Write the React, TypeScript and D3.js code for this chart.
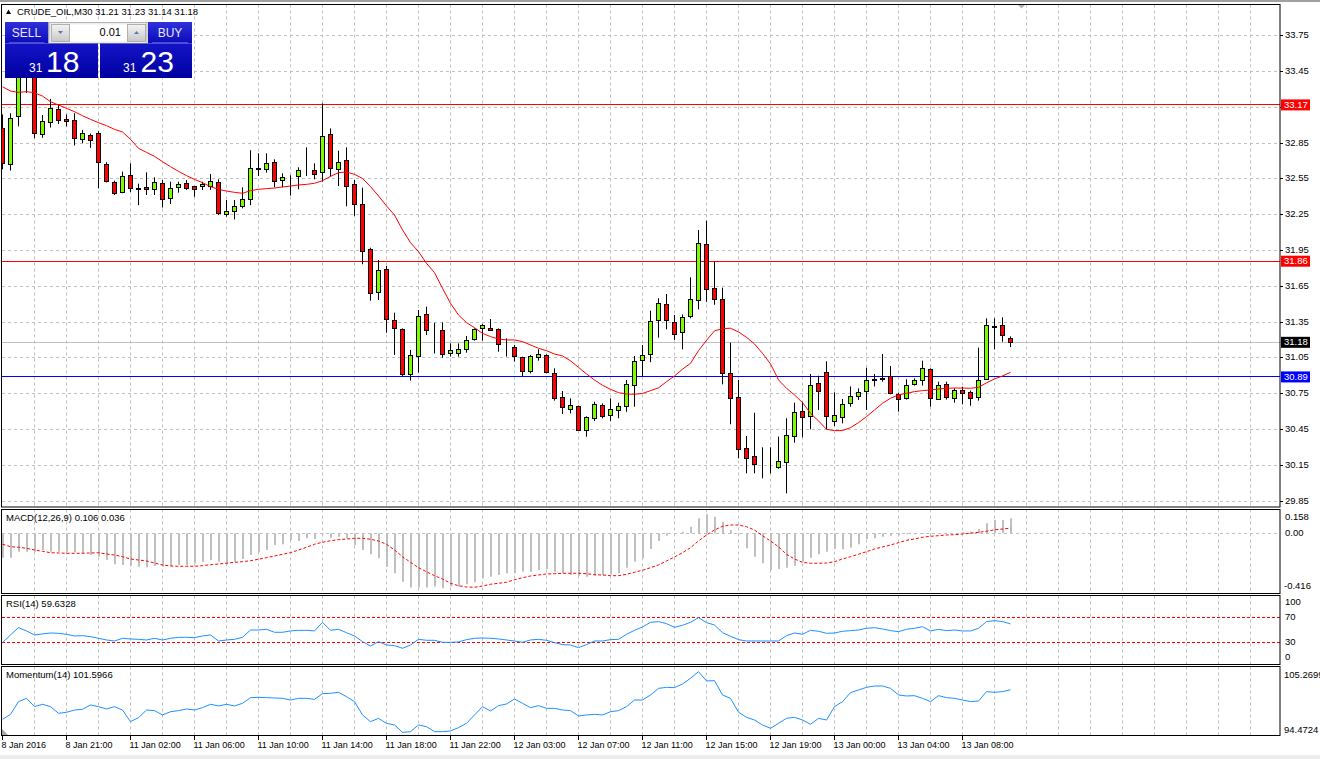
import * as d3 from "d3";

// CRUDE_OIL M30, bars (left to right)
const opens = [
  32.97, 32.67, 33.07, 33.42, 33.42, 32.926, 33.02, 33.13, 33.05, 33.04,
  32.88, 32.91, 32.93, 32.67, 32.52, 32.434, 32.58, 32.465, 32.48, 32.462,
  32.51, 32.387, 32.479, 32.513, 32.482, 32.482, 32.485, 32.521, 32.253, 32.275,
  32.317, 32.378, 32.632, 32.63, 32.688, 32.54, 32.568, 32.568, 32.628, 32.616,
  32.602, 32.926, 32.63, 32.7, 32.504, 32.331, 31.954, 31.596, 31.794, 31.367,
  31.289, 30.911, 31.06, 31.414, 31.28, 31.283, 31.088, 31.088, 31.121, 31.2,
  31.297, 31.297, 31.289, 31.158, 31.138, 31.054, 30.934, 31.054, 31.071, 30.92,
  30.719, 30.618, 30.643, 30.445, 30.543, 30.652, 30.565, 30.61, 30.646, 30.819,
  31.026, 31.08, 31.362, 31.498, 31.347, 31.261, 31.395, 31.529, 32.004, 31.632,
  31.543, 30.915, 30.719, 30.291, 30.222, 30.148, 30.15, 30.132, 30.174, 30.39,
  30.604, 30.557, 30.834, 30.928, 30.515, 30.551, 30.668, 30.725, 30.766, 30.862,
  30.871, 30.892, 30.744, 30.705, 30.83, 30.864, 30.954, 30.702, 30.828, 30.705,
  30.78, 30.761, 30.719, 30.87, 31.305, 31.322, 31.21,
];
const highs = [
  33.09, 33.1, 33.45, 33.52, 33.5, 33.085, 33.22, 33.17, 33.09, 33.1,
  32.96, 32.93, 32.95, 32.69, 32.535, 32.61, 32.68, 32.51, 32.605, 32.563,
  32.54, 32.526, 32.526, 32.54, 32.485, 32.526, 32.59, 32.546, 32.373, 32.373,
  32.479, 32.79, 32.764, 32.764, 32.714, 32.596, 32.58, 32.647, 32.814, 32.68,
  33.183, 32.973, 32.786, 32.814, 32.54, 32.476, 31.973, 31.87, 31.82, 31.428,
  31.297, 31.116, 31.451, 31.479, 31.344, 31.347, 31.171, 31.171, 31.233, 31.297,
  31.333, 31.375, 31.297, 31.213, 31.158, 31.06, 31.074, 31.121, 31.079, 30.962,
  30.772, 30.71, 30.65, 30.56, 30.682, 30.668, 30.71, 30.674, 30.864, 31.065,
  31.157, 31.445, 31.549, 31.585, 31.409, 31.414, 31.725, 32.121, 32.2, 31.856,
  31.638, 31.177, 30.864, 30.395, 30.59, 30.3, 30.3, 30.39, 30.543, 30.674,
  30.682, 30.914, 30.9, 31.021, 30.761, 30.705, 30.81, 30.794, 30.967, 30.914,
  31.082, 30.981, 30.758, 30.87, 30.878, 31.026, 30.962, 30.85, 30.85, 30.794,
  30.808, 30.775, 31.135, 31.381, 31.381, 31.389, 31.23,
];
const lows = [
  32.63, 32.62, 32.99, 33.27, 32.89, 32.895, 32.98, 33.01, 32.99, 32.83,
  32.85, 32.81, 32.47, 32.52, 32.415, 32.43, 32.44, 32.33, 32.415, 32.415,
  32.31, 32.34, 32.434, 32.457, 32.4, 32.457, 32.457, 32.247, 32.233, 32.21,
  32.303, 32.33, 32.574, 32.602, 32.479, 32.479, 32.41, 32.462, 32.574, 32.546,
  32.526, 32.568, 32.49, 32.32, 32.24, 31.834, 31.529, 31.535, 31.26, 31.074,
  30.892, 30.86, 30.926, 31.241, 31.087, 31.051, 31.06, 31.06, 31.093, 31.194,
  31.194, 31.275, 31.101, 31.06, 31.018, 30.897, 30.92, 31.026, 30.92, 30.691,
  30.579, 30.584, 30.44, 30.389, 30.52, 30.543, 30.52, 30.543, 30.598, 30.64,
  30.897, 31.013, 31.219, 31.289, 31.2, 31.121, 31.381, 31.456, 31.52, 31.495,
  30.828, 30.493, 30.208, 30.082, 30.082, 30.04, 30.082, 30.12, 29.914, 30.339,
  30.384, 30.451, 30.613, 30.451, 30.479, 30.501, 30.64, 30.697, 30.613, 30.81,
  30.85, 30.744, 30.599, 30.7, 30.817, 30.817, 30.641, 30.7, 30.7, 30.674,
  30.66, 30.649, 30.691, 30.87, 31.121, 31.185, 31.14,
];
const closes = [
  32.68, 33.06, 33.4, 33.44, 32.93, 33.035, 33.14, 33.04, 33.03, 32.89,
  32.93, 32.87, 32.69, 32.53, 32.43, 32.574, 32.47, 32.467, 32.46, 32.52,
  32.38, 32.47, 32.504, 32.47, 32.465, 32.504, 32.532, 32.256, 32.275, 32.317,
  32.373, 32.638, 32.636, 32.68, 32.526, 32.56, 32.57, 32.624, 32.632, 32.588,
  32.909, 32.638, 32.688, 32.485, 32.336, 31.94, 31.59, 31.786, 31.373, 31.294,
  30.914, 31.068, 31.395, 31.283, 31.278, 31.074, 31.11, 31.121, 31.194, 31.289,
  31.317, 31.278, 31.163, 31.16, 31.06, 30.934, 31.06, 31.079, 30.925, 30.705,
  30.635, 30.652, 30.445, 30.551, 30.663, 30.557, 30.618, 30.643, 30.828, 31.018,
  31.073, 31.353, 31.507, 31.362, 31.247, 31.389, 31.54, 32.01, 31.624, 31.543,
  30.92, 30.71, 30.283, 30.208, 30.157, 30.146, 30.146, 30.18, 30.4, 30.593,
  30.551, 30.822, 30.766, 30.557, 30.563, 30.663, 30.722, 30.761, 30.861, 30.866,
  30.875, 30.752, 30.697, 30.817, 30.856, 30.962, 30.71, 30.817, 30.719, 30.772,
  30.752, 30.71, 30.864, 31.322, 31.31, 31.233, 31.18,
];
const maValues = [
  33.322, 33.286, 33.275, 33.281, 33.272, 33.244, 33.197, 33.169, 33.141, 33.113,
  33.079, 33.049, 33.021, 32.996, 32.965, 32.943, 32.881, 32.806, 32.772, 32.739,
  32.694, 32.652, 32.613, 32.577, 32.546, 32.518, 32.485, 32.462, 32.448, 32.437,
  32.429, 32.451, 32.462, 32.468, 32.473, 32.482, 32.49, 32.499, 32.504, 32.513,
  32.535, 32.571, 32.602, 32.608, 32.588, 32.553, 32.485, 32.407, 32.323, 32.247,
  32.122, 32.015, 31.94, 31.842, 31.764, 31.633, 31.507, 31.409, 31.345, 31.303,
  31.255, 31.228, 31.208, 31.2, 31.2, 31.186, 31.158, 31.13, 31.11, 31.082,
  31.066, 31.025, 30.97, 30.915, 30.864, 30.82, 30.786, 30.758, 30.747, 30.745,
  30.751, 30.775, 30.798, 30.85, 30.898, 30.955, 31.004, 31.11, 31.197, 31.276,
  31.295, 31.298, 31.267, 31.222, 31.166, 31.088, 30.999, 30.865, 30.795, 30.739,
  30.675, 30.585, 30.521, 30.451, 30.44, 30.44, 30.465, 30.507, 30.557, 30.613,
  30.669, 30.711, 30.739, 30.753, 30.767, 30.775, 30.781, 30.789, 30.795, 30.797,
  30.797, 30.795, 30.803, 30.84, 30.873, 30.898, 30.929,
];
const macdMain = [
  -0.171, -0.171, -0.129, -0.129, -0.129, -0.117, -0.129, -0.129, -0.129, -0.133,
  -0.14, -0.152, -0.164, -0.187, -0.217, -0.222, -0.227, -0.234, -0.238, -0.229,
  -0.234, -0.229, -0.222, -0.222, -0.21, -0.199, -0.187, -0.199, -0.217, -0.199,
  -0.18, -0.152, -0.133, -0.117, -0.082, -0.077, -0.047, -0.054, -0.035, -0.04,
  -0.007, -0.031, -0.024, -0.035, -0.082, -0.117, -0.147, -0.175, -0.234, -0.28,
  -0.339, -0.38, -0.38, -0.38, -0.373, -0.385, -0.373, -0.373, -0.357, -0.343,
  -0.315, -0.304, -0.292, -0.28, -0.28, -0.269, -0.269, -0.257, -0.25, -0.269,
  -0.28, -0.292, -0.297, -0.304, -0.297, -0.292, -0.287, -0.28, -0.241, -0.199,
  -0.175, -0.11, -0.054, -0.017, 0.0, 0.011, 0.046, 0.105, 0.133, 0.116,
  0.081, 0.023, -0.007, -0.105, -0.164, -0.21, -0.257, -0.25, -0.241, -0.227,
  -0.199, -0.171, -0.147, -0.129, -0.11, -0.112, -0.101, -0.077, -0.04, -0.035,
  -0.024, -0.017, -0.012, -0.007, -0.007, -0.005, -0.003, -0.003, 0.0, 0.002,
  0.007, 0.011, 0.03, 0.07, 0.093, 0.093, 0.106,
];
const macdSignal = [
  -0.077, -0.094, -0.098, -0.105, -0.117, -0.126, -0.136, -0.138, -0.14, -0.14,
  -0.14, -0.138, -0.136, -0.145, -0.152, -0.164, -0.18, -0.187, -0.194, -0.208,
  -0.222, -0.229, -0.231, -0.231, -0.231, -0.227, -0.22, -0.215, -0.21, -0.203,
  -0.199, -0.192, -0.182, -0.171, -0.159, -0.147, -0.136, -0.117, -0.098, -0.077,
  -0.063, -0.052, -0.045, -0.04, -0.035, -0.035, -0.042, -0.054, -0.077, -0.117,
  -0.164, -0.203, -0.241, -0.269, -0.297, -0.32, -0.35, -0.367, -0.376, -0.378,
  -0.369, -0.357, -0.35, -0.343, -0.325, -0.311, -0.299, -0.292, -0.285, -0.283,
  -0.28, -0.28, -0.28, -0.283, -0.29, -0.292, -0.297, -0.297, -0.287, -0.273,
  -0.259, -0.241, -0.222, -0.194, -0.166, -0.136, -0.101, -0.054, -0.012, 0.023,
  0.049, 0.058, 0.058, 0.046, 0.023, -0.017, -0.054, -0.094, -0.147, -0.18,
  -0.203, -0.21, -0.21, -0.208, -0.199, -0.18, -0.164, -0.147, -0.129, -0.11,
  -0.096, -0.082, -0.066, -0.049, -0.04, -0.028, -0.021, -0.017, -0.012, -0.01,
  -0.005, 0.0, 0.007, 0.014, 0.024, 0.03, 0.036,
];
const rsiValues = [
  30.1, 42.2, 53.7, 48.5, 42.2, 43.8, 45.3, 44.8, 43.2, 40.6,
  41.1, 39.5, 36.9, 34.3, 32.7, 36.9, 35.9, 35.3, 34.3, 36.9,
  34.3, 36.9, 38.5, 38.5, 38.0, 40.6, 42.2, 32.7, 34.3, 35.3,
  38.5, 50.0, 50.0, 51.1, 46.4, 46.4, 48.5, 49.5, 49.5, 48.5,
  62.1, 49.5, 51.1, 45.8, 40.6, 31.7, 24.8, 31.7, 26.4, 25.4,
  21.2, 26.4, 35.3, 33.8, 33.8, 30.6, 30.6, 31.2, 34.8, 36.9,
  37.5, 36.9, 35.9, 34.3, 32.7, 30.6, 34.3, 35.3, 33.8, 30.1,
  27.0, 26.4, 22.2, 27.0, 32.7, 32.7, 34.8, 35.3, 43.2, 49.5,
  54.8, 62.1, 63.2, 60.0, 54.2, 57.4, 62.1, 69.5, 61.6, 57.9,
  45.8, 40.1, 34.8, 32.7, 32.7, 32.7, 32.7, 32.7, 41.1, 45.3,
  43.2, 49.5, 48.0, 44.8, 45.3, 48.0, 49.0, 50.0, 52.7, 53.7,
  51.6, 49.0, 47.4, 51.1, 52.7, 55.3, 48.5, 51.1, 49.0, 50.0,
  48.5, 48.5, 52.7, 63.2, 64.7, 63.2, 59.6328,
];
const momentumValues = [
  96.84, 97.64, 99.69, 100.22, 98.88, 99.26, 98.88, 97.81, 97.97, 98.34,
  98.45, 99.15, 98.88, 98.5, 98.88, 98.34, 96.46, 97.11, 98.34, 98.24,
  97.54, 98.07, 98.24, 98.5, 98.34, 98.72, 99.26, 98.99, 99.26, 98.99,
  99.42, 100.33, 100.38, 100.33, 100.28, 100.22, 99.95, 100.22, 100.22, 100.06,
  100.97, 101.03, 101.19, 100.49, 99.69, 97.54, 96.46, 96.99, 96.19, 95.93,
  94.74, 94.85, 95.93, 95.66, 94.85, 94.85, 94.96, 95.5, 96.19, 97.54,
  98.88, 98.18, 99.04, 99.31, 100.11, 99.42, 98.72, 99.04, 98.61, 98.61,
  98.34, 98.24, 97.38, 97.54, 97.64, 97.54, 98.07, 98.24, 98.88, 99.95,
  99.95, 100.76, 101.83, 101.99, 101.94, 102.53, 103.45, 104.52, 103.02, 103.07,
  100.76, 100.22, 97.97, 97.16, 96.73, 95.93, 95.39, 96.19, 97.0, 97.16,
  96.73, 96.03, 97.0, 96.73, 98.88, 99.69, 101.14, 101.57, 101.99, 102.21,
  102.21, 101.83, 100.76, 100.6, 100.65, 100.22, 99.69, 100.65, 100.33, 100.22,
  99.95, 99.69, 99.79, 101.3, 101.19, 101.3, 101.5966,
];

const priceTicks = [33.75, 33.45, 33.15, 32.85, 32.55, 32.25, 31.95, 31.65, 31.35, 31.05, 30.75, 30.45, 30.15, 29.85];
const levelValues = [33.17, 31.86, 31.18, 30.89];
const askPrice = 31.23;
const lotSize = "0.01";
const timeLabels = [
  "8 Jan 2016", "8 Jan 21:00", "11 Jan 02:00", "11 Jan 06:00", "11 Jan 10:00",
  "11 Jan 14:00", "11 Jan 18:00", "11 Jan 22:00", "12 Jan 03:00", "12 Jan 07:00",
  "12 Jan 11:00", "12 Jan 15:00", "12 Jan 19:00", "13 Jan 00:00", "13 Jan 04:00",
  "13 Jan 08:00",
];
const macdRange = [-0.416, 0.158];
const rsiRange = [0, 100];
const rsiLevels = [70, 30];
const momRange = [94.4724, 105.2699];

const FONT = "Liberation Sans, Arial, sans-serif";
const LEFT = 2;
const RIGHT = 1280;
const GRID = "#c0c0c0";
const levelColors = ["#ff0000", "#ff0000", "#c0c0c0", "#0000ff"];
const levelBg = ["#ff0000", "#ff0000", "#000000", "#0000ff"];

const panels = {
  main: { top: 4.5, bottom: 507 },
  macd: { top: 509.5, bottom: 593.5 },
  rsi: { top: 595.5, bottom: 664.5 },
  mom: { top: 666.5, bottom: 735.5 },
};

const n = closes.length;
const x = d3.scaleLinear().domain([0, n - 1]).range([2.5, 2.5 + 8 * (n - 1)]);
const yMain = d3.scaleLinear().domain([29.85, 33.75]).range([501, 35.7]);
const yMacd = d3.scaleLinear().domain(macdRange).range([592.7, 510.7]);
const yRsi = d3.scaleLinear().domain(rsiRange).range([661.75, 598.25]);
const yMom = d3.scaleLinear().domain(momRange).range([734, 667]);

const crisp = (v: number) => Math.round(v - 0.5) + 0.5;
const gridBars = d3.range(4, 157, 4);

const App = () => {
  const last = n - 1;
  const maLine = d3.line<number>().x((_d, i) => x(i)).y((d) => yMain(d));
  const sigLine = d3.line<number>().x((_d, i) => x(i)).y((d) => yMacd(d));
  const rsiLine = d3.line<number>().x((_d, i) => x(i)).y((d) => yRsi(d));
  const momLine = d3.line<number>().x((_d, i) => x(i)).y((d) => yMom(d));

  const bid = closes[last];
  const split = (p: number) => {
    const s = p.toFixed(2).split(".");
    return [s[0], s[1]];
  };
  const [bidBig, bidSmall] = split(bid);
  const [askBig, askSmall] = split(askPrice);

  const panelGrid = (p: { top: number; bottom: number }, key: string) => (
    <g key={key}>
      {gridBars.map((b) => (
        <line key={b} x1={x(b)} x2={x(b)} y1={p.top} y2={p.bottom} stroke={GRID} strokeDasharray="3,3" />
      ))}
    </g>
  );

  const axisText = { fontFamily: FONT, fontSize: 9.5, fill: "#000" };

  return (
    <div style={{ position: "absolute", left: 0, top: 0 }}>
      <svg width={1320} height={759} style={{ display: "block", background: "#fff" }}>
        <defs>
          <clipPath id="clip-main">
            <rect x={LEFT} y={panels.main.top} width={RIGHT - LEFT} height={panels.main.bottom - panels.main.top} />
          </clipPath>
          <linearGradient id="btn" x1="0" y1="0" x2="0" y2="1">
            <stop offset="0%" stopColor="#3030dc" />
            <stop offset="100%" stopColor="#0a0ab8" />
          </linearGradient>
          <linearGradient id="pricebox" x1="0" y1="0" x2="0" y2="1">
            <stop offset="0%" stopColor="#1414c8" />
            <stop offset="100%" stopColor="#0000a0" />
          </linearGradient>
          <linearGradient id="spin" x1="0" y1="0" x2="0" y2="1">
            <stop offset="0%" stopColor="#f4f4f4" />
            <stop offset="100%" stopColor="#c8c8c8" />
          </linearGradient>
        </defs>

        <rect x={0} y={0} width={1320} height={2} fill="#a0a0a0" />
        <rect x={0} y={755} width={1320} height={4} fill="#ececec" />

        {/* grids */}
        {panelGrid(panels.main, "gm")}
        {panelGrid(panels.macd, "gd")}
        {panelGrid(panels.rsi, "gr")}
        {panelGrid(panels.mom, "go")}
        {priceTicks.map((t) => (
          <line key={t} x1={LEFT} x2={RIGHT} y1={crisp(yMain(t))} y2={crisp(yMain(t))} stroke={GRID} strokeDasharray="3,3" />
        ))}
        <line x1={LEFT} x2={RIGHT} y1={crisp(yMacd(0))} y2={crisp(yMacd(0))} stroke={GRID} strokeDasharray="3,3" />

        {/* main panel */}
        <g clipPath="url(#clip-main)">
          {levelValues.map((v, i) => (
            <line key={v} x1={LEFT} x2={RIGHT} y1={crisp(yMain(v))} y2={crisp(yMain(v))} stroke={levelColors[i]} />
          ))}
          {closes.map((c, i) => {
            const o = opens[i];
            const cx = x(i);
            const top = crisp(yMain(Math.max(o, c)));
            const bot = crisp(yMain(Math.min(o, c)));
            return (
              <g key={i}>
                <line x1={cx} x2={cx} y1={yMain(highs[i])} y2={yMain(lows[i])} stroke="#000" />
                <rect x={cx - 2} y={top} width={4} height={Math.max(0, bot - top)} fill={c >= o ? "#7cfc00" : "#ff0000"} stroke="#000" />
              </g>
            );
          })}
          <path d={maLine(maValues) ?? ""} fill="none" stroke="#ff0000" strokeWidth={1} />
        </g>

        {/* MACD */}
        {macdMain.map((v, i) => (
          <line key={i} x1={x(i) + 0.5} x2={x(i) + 0.5} y1={yMacd(0)} y2={yMacd(v)} stroke="#c0c0c0" strokeWidth={2} />
        ))}
        <path d={sigLine(macdSignal) ?? ""} fill="none" stroke="#ff0000" strokeDasharray="3,2" />

        {/* RSI */}
        {rsiLevels.map((l) => (
          <line key={l} x1={LEFT} x2={RIGHT} y1={crisp(yRsi(l))} y2={crisp(yRsi(l))} stroke="#ff0000" strokeDasharray="3,2" />
        ))}
        <path d={rsiLine(rsiValues) ?? ""} fill="none" stroke="#1e90ff" />

        {/* Momentum */}
        <path d={momLine(momentumValues) ?? ""} fill="none" stroke="#1e90ff" />

        {/* panel borders */}
        {Object.entries(panels).map(([k, p]) => (
          <rect key={k} x={LEFT - 0.5} y={p.top} width={RIGHT - LEFT + 0.5} height={p.bottom - p.top} fill="none" stroke="#000" />
        ))}

        {/* right price axis */}
        {priceTicks.map((t) => (
          <g key={t}>
            <line x1={RIGHT} x2={RIGHT + 3} y1={crisp(yMain(t))} y2={crisp(yMain(t))} stroke="#000" />
            <text x={1285} y={yMain(t)} dominantBaseline="middle" {...axisText}>
              {t.toFixed(2)}
            </text>
          </g>
        ))}
        {levelValues.map((v, i) => (
          <g key={v}>
            <rect x={RIGHT + 1} y={yMain(v) - 5.5} width={29} height={11} fill={levelBg[i]} />
            <text x={1284} y={yMain(v) + 0.5} dominantBaseline="middle" {...axisText} fill="#fff">
              {v.toFixed(2)}
            </text>
          </g>
        ))}

        {/* sub-window axes */}
        <text x={1285} y={yMacd(macdRange[1]) + 6.5} dominantBaseline="middle" {...axisText}>{macdRange[1].toFixed(3)}</text>
        <text x={1285} y={yMacd(0)} dominantBaseline="middle" {...axisText}>0.00</text>
        <text x={1284} y={yMacd(macdRange[0]) - 6.5} dominantBaseline="middle" {...axisText}>{macdRange[0].toFixed(3)}</text>
        <text x={1285} y={yRsi(rsiRange[1]) + 4} dominantBaseline="middle" {...axisText}>{rsiRange[1]}</text>
        {rsiLevels.map((l) => (
          <text key={l} x={1285} y={yRsi(l)} dominantBaseline="middle" {...axisText}>{l}</text>
        ))}
        <text x={1285} y={yRsi(rsiRange[0]) - 4} dominantBaseline="middle" {...axisText}>{rsiRange[0]}</text>
        <text x={1284} y={yMom(momRange[1]) + 8} dominantBaseline="middle" {...axisText}>{momRange[1].toFixed(4)}</text>
        <text x={1284} y={yMom(momRange[0]) - 4} dominantBaseline="middle" {...axisText}>{momRange[0].toFixed(4)}</text>

        {/* indicator titles */}
        <text x={6} y={518.5} dominantBaseline="middle" {...axisText}>
          {`MACD(12,26,9) ${macdMain[last].toFixed(3)} ${macdSignal[last].toFixed(3)}`}
        </text>
        <text x={6} y={604} dominantBaseline="middle" {...axisText}>
          {`RSI(14) ${rsiValues[last].toFixed(4)}`}
        </text>
        <text x={6} y={675.5} dominantBaseline="middle" {...axisText}>
          {`Momentum(14) ${momentumValues[last].toFixed(4)}`}
        </text>

        {/* time axis */}
        {timeLabels.map((t, i) => (
          <g key={t}>
            <line x1={x(i * 8)} x2={x(i * 8)} y1={736} y2={740} stroke="#000" />
            <text x={x(i * 8) - 1} y={745.5} dominantBaseline="middle" {...axisText} fontSize={9}>
              {t}
            </text>
          </g>
        ))}
        <polygon points="2,729 2,735 8,735" fill="#a8a8a8" />
        <polygon points="1018,5 1025,5 1021.5,8.5" fill="#b4b4b4" />

        {/* header */}
        <polygon points="6,14 11,14 8.5,9.5" fill="#000" />
        <text x={17} y={12.5} dominantBaseline="middle" {...axisText}>
          {`CRUDE_OIL,M30  ${opens[last].toFixed(2)} ${highs[last].toFixed(2)} ${lows[last].toFixed(2)} ${closes[last].toFixed(2)}`}
        </text>

        {/* one-click trading panel */}
        <g fontFamily={FONT}>
          <rect x={5} y={22} width={43.5} height={21.5} fill="url(#btn)" />
          <rect x={148} y={22} width={44} height={21.5} fill="url(#btn)" />
          <line x1={9} x2={44.5} y1={43} y2={43} stroke="#8c8cf0" />
          <line x1={152} x2={188} y1={43} y2={43} stroke="#8c8cf0" />
          <text x={26.5} y={33.5} textAnchor="middle" dominantBaseline="middle" fontSize={12} fill="#e8e8ff">SELL</text>
          <text x={170} y={33.5} textAnchor="middle" dominantBaseline="middle" fontSize={12} fill="#e8e8ff">BUY</text>
          <rect x={49} y={22.5} width={98} height={21} fill="#ececec" stroke="#b4b4b4" />
          <rect x={51.5} y={24.5} width={18} height={17} fill="url(#spin)" stroke="#b0b0b0" />
          <rect x={70} y={24.5} width={57} height={17} fill="#fff" />
          <rect x={127.5} y={24.5} width={18} height={17} fill="url(#spin)" stroke="#b0b0b0" />
          <polygon points="58,31 63,31 60.5,34" fill="#5a78b4" />
          <polygon points="134,34 139,34 136.5,31" fill="#5a78b4" />
          <text x={121} y={33.5} textAnchor="end" dominantBaseline="middle" fontSize={11} fill="#000">{lotSize}</text>
          <rect x={5} y={43.5} width={93} height={34.5} fill="url(#pricebox)" />
          <rect x={100} y={43.5} width={92} height={34.5} fill="url(#pricebox)" />
          <text x={29} y={72} fontSize={12} fill="#fff">{bidBig}</text>
          <text x={46} y={72} fontSize={30} fill="#fff">{bidSmall}</text>
          <text x={123} y={72} fontSize={12} fill="#fff">{askBig}</text>
          <text x={140.5} y={72} fontSize={30} fill="#fff">{askSmall}</text>
        </g>
      </svg>
    </div>
  );
};

export default App;
